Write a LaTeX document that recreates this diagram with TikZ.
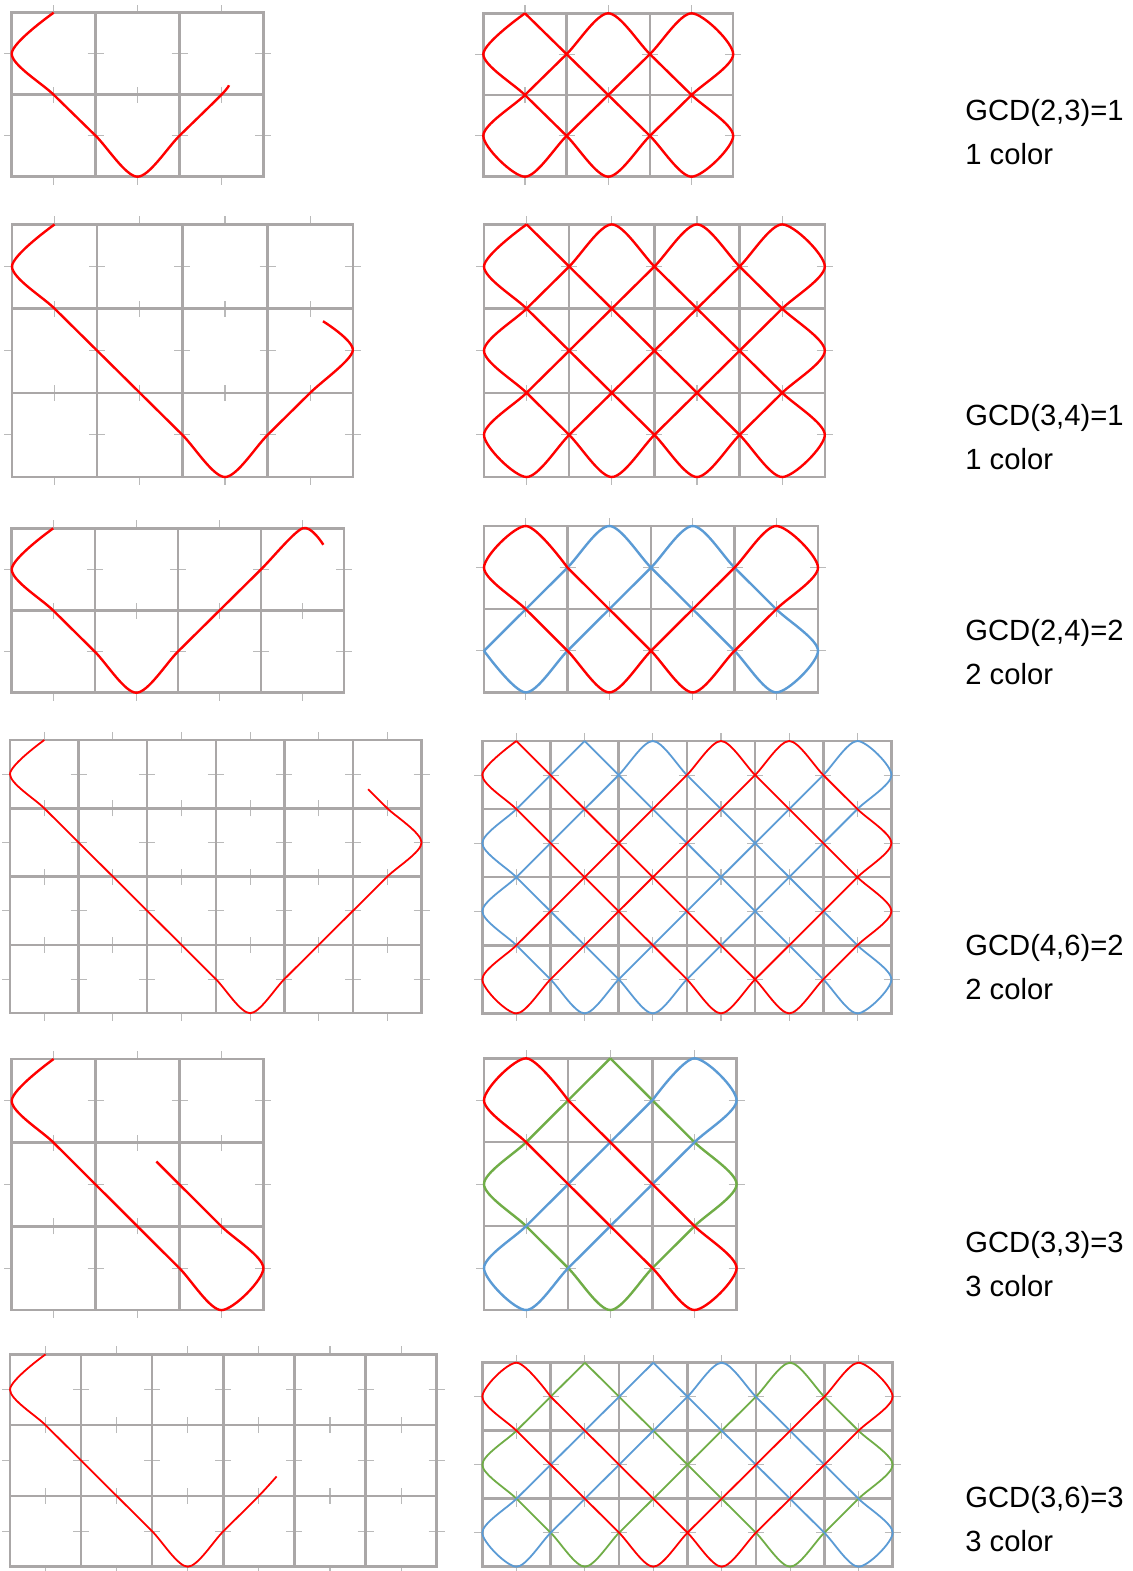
\documentclass[tikz,border=0pt]{standalone}
\usepackage{fontspec}
\setmainfont{Liberation Sans}
\usepackage{tikz}

\definecolor{gridgray}{RGB}{170,167,167}
\definecolor{tickgray}{RGB}{186,186,186}
\definecolor{knotblue}{RGB}{91,155,213}
\definecolor{knotgreen}{RGB}{112,173,71}

% mirror curve through the edge midpoints, counted in half cells
\newcount\kX \newcount\kY \newcount\kdX \newcount\kdY \newcount\kn
\newcommand\knotpts[7]{%
  \kX=#3 \kY=#4 \kdX=#5 \kdY=#6 \kn=0
  \edef\kpts{(\the\kX,\the\kY)}%
  \loop\ifnum\kn<#7
    \advance\kX by \kdX \advance\kY by \kdY
    \ifnum\kX=0 \kdX=1 \fi
    \ifnum\kX=\numexpr2*#1\relax \kdX=-1 \fi
    \ifnum\kY=0 \kdY=1 \fi
    \ifnum\kY=\numexpr2*#2\relax \kdY=-1 \fi
    \edef\kpts{\kpts (\the\kX,\the\kY)}%
    \advance\kn by 1
  \repeat}
\newcommand\knotdraw[1]{\edef\kcmd{\noexpand\draw[#1] plot[smooth] coordinates {\kpts};}\kcmd}

% frame, grid and ticks of a W x H board
\newcommand\knotgrid[2]{%
  \pgfmathtruncatemacro\hm{#2-1}%
  \pgfmathtruncatemacro\wm{#1-1}%
  \foreach \j in {1,...,#2}{
    \draw[tickmark] (0,2*\j-1) -- +(-4pt,0pt);
    \foreach \i in {1,...,#1} \draw[tickmark] (2*\i,2*\j-1) +(-4pt,0pt) -- +(4pt,0pt);
  }
  \foreach \i in {1,...,#1}{
    \draw[tickmark] (2*\i-1,0) -- +(0pt,4pt);
    \draw[tickmark] (2*\i-1,2*#2) -- +(0pt,-4pt);
    \foreach \j in {1,...,\hm} \draw[tickmark] (2*\i-1,2*\j) +(0pt,-4pt) -- +(0pt,4pt);
  }
  \draw[gridline] (0,0) rectangle (2*#1,2*#2);
  \foreach \i in {1,...,\wm} \draw[gridline] (2*\i,0) -- (2*\i,2*#2);
  \foreach \j in {1,...,\hm} \draw[gridline] (0,2*\j) -- (2*#1,2*\j);
}

\begin{document}
\begin{tikzpicture}[x=0.5pt, y=-0.5pt,
  gridline/.style={gridgray, line width=1.25pt},
  tickmark/.style={tickgray, line width=0.55pt},
  knotline/.style={line width=1.2pt, line join=round},
  thinknot/.style={line width=0.9pt, line join=round},
  gcdtext/.style={anchor=base west, inner sep=0pt, font=\fontsize{14.6}{17}\selectfont}]
\useasboundingbox (0,0) rectangle (1133,1571);

% row 1
\begin{scope}[shift={(11.7,12.7)}, x=20.975pt, y=-20.5pt]
  \knotgrid{3}{2}
  \knotpts{3}{2}{1}{0}{-1}{1}{6}\edef\kpts{\kpts (5.18,1.77)}
  \knotdraw{knotline, red}
\end{scope}
\begin{scope}[shift={(483.3,13.3)}, x=20.825pt, y=-20.425pt]
  \knotgrid{3}{2}
  \knotpts{3}{2}{1}{0}{-1}{1}{24}\knotdraw{knotline, red}
\end{scope}
\node[gcdtext] (gcdA) at (965,120.5) {GCD(2,3)=1};
\node[gcdtext] (colA) at (965,164.5) {1 color};

% row 2
\begin{scope}[shift={(12,224.4)}, x=21.3pt, y=-21.05pt]
  \knotgrid{4}{3}
  \knotpts{4}{3}{1}{0}{-1}{1}{9}\edef\kpts{\kpts (7.3,2.3)}
  \knotdraw{knotline, red}
\end{scope}
\begin{scope}[shift={(484,224.4)}, x=21.3pt, y=-21.05pt]
  \knotgrid{4}{3}
  \knotpts{4}{3}{1}{0}{-1}{1}{48}\knotdraw{knotline, red}
\end{scope}
\node[gcdtext] (gcdB) at (965,425.5) {GCD(3,4)=1};
\node[gcdtext] (colB) at (965,469.5) {1 color};

% row 3
\begin{scope}[shift={(11.7,528.3)}, x=20.775pt, y=-20.55pt]
  \knotgrid{4}{2}
  \knotpts{4}{2}{1}{0}{-1}{1}{8}\edef\kpts{\kpts (7.5,0.4)}
  \knotdraw{knotline, red}
\end{scope}
\begin{scope}[shift={(484,526)}, x=20.875pt, y=-20.8pt]
  \knotgrid{4}{2}
  \knotpts{4}{2}{0}{3}{1}{1}{16}\knotdraw{knotline, knotblue}
  \knotpts{4}{2}{2}{1}{-1}{-1}{16}\knotdraw{knotline, red}
\end{scope}
\node[gcdtext] (gcdC) at (965,640) {GCD(2,4)=2};
\node[gcdtext] (colC) at (965,684) {2 color};

% row 4
\begin{scope}[shift={(10,740)}, x=17.15pt, y=-17.075pt]
  \knotgrid{6}{4}
  \knotpts{6}{4}{1}{0}{-1}{1}{14}\edef\kpts{\kpts (10.44,1.44)}
  \knotdraw{thinknot, red}
\end{scope}
\begin{scope}[shift={(482.3,741)}, x=17.05pt, y=-17.025pt]
  \knotgrid{6}{4}
  \knotpts{6}{4}{3}{0}{-1}{1}{48}\knotdraw{thinknot, knotblue}
  \knotpts{6}{4}{1}{0}{-1}{1}{48}\knotdraw{thinknot, red}
\end{scope}
\node[gcdtext] (gcdD) at (965,955) {GCD(4,6)=2};
\node[gcdtext] (colD) at (965,999) {2 color};

% row 5
\begin{scope}[shift={(11.7,1059)}, x=20.975pt, y=-20.925pt]
  \knotgrid{3}{3}
  \knotpts{3}{3}{1}{0}{-1}{1}{9}\edef\kpts{\kpts (3.45,2.45)}
  \knotdraw{knotline, red}
\end{scope}
\begin{scope}[shift={(484,1058.3)}, x=21.05pt, y=-20.975pt]
  \knotgrid{3}{3}
  \knotpts{3}{3}{3}{0}{-1}{1}{12}\knotdraw{knotline, knotgreen}
  \knotpts{3}{3}{4}{1}{-1}{1}{12}\knotdraw{knotline, knotblue}
  \knotpts{3}{3}{2}{1}{-1}{-1}{12}\knotdraw{knotline, red}
\end{scope}
\node[gcdtext] (gcdE) at (965,1252.5) {GCD(3,3)=3};
\node[gcdtext] (colE) at (965,1296.5) {3 color};

% row 6
\begin{scope}[shift={(10,1354.3)}, x=17.775pt, y=-17.7pt]
  \knotgrid{6}{3}
  \knotpts{6}{3}{1}{0}{-1}{1}{8}\edef\kpts{\kpts (7.5,3.45)}
  \knotdraw{thinknot, red}
\end{scope}
\begin{scope}[shift={(482.3,1362.7)}, x=17.1pt, y=-17pt]
  \knotgrid{6}{3}
  \knotpts{6}{3}{3}{0}{-1}{1}{24}\knotdraw{thinknot, knotgreen}
  \knotpts{6}{3}{5}{0}{-1}{1}{24}\knotdraw{thinknot, knotblue}
  \knotpts{6}{3}{2}{1}{-1}{-1}{24}\knotdraw{thinknot, red}
\end{scope}
\node[gcdtext] (gcdF) at (965,1507) {GCD(3,6)=3};
\node[gcdtext] (colF) at (965,1551) {3 color};
\end{tikzpicture}
\end{document}
